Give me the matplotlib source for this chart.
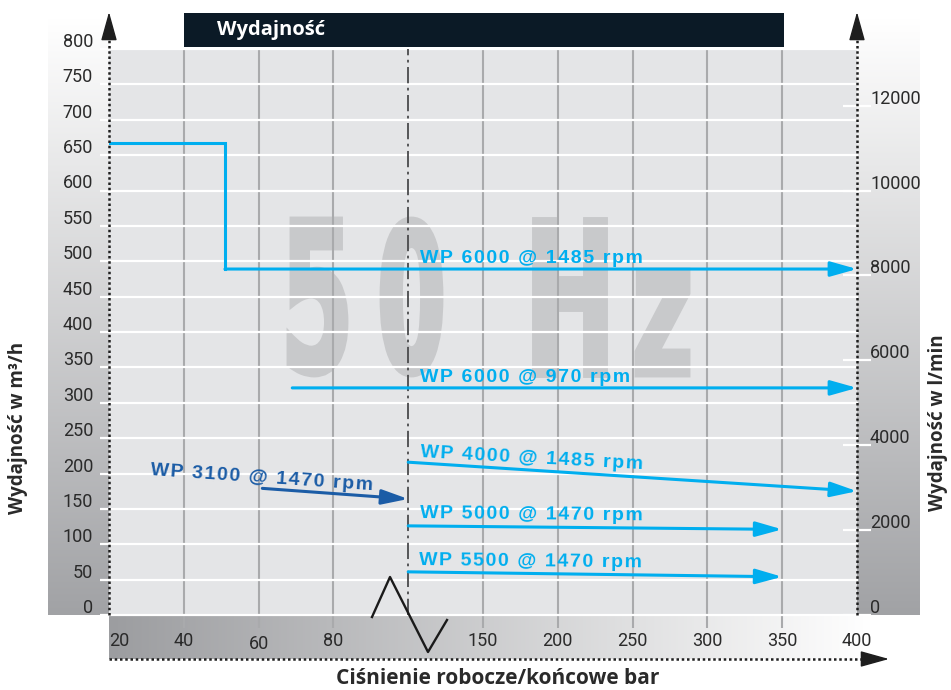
import numpy as np
import matplotlib
matplotlib.use('Agg')
import matplotlib.pyplot as plt
from matplotlib import transforms
from matplotlib.colors import LinearSegmentedColormap
from matplotlib.textpath import TextPath
from matplotlib.patches import PathPatch, Rectangle
from matplotlib.font_manager import FontProperties

# values: pressure in bar, flow in m3/h
p_ticks = [20, 40, 60, 80, 150, 200, 250, 300, 350, 400]
p_grid = [40, 60, 80, 150, 200, 250, 300, 350]
q_ticks = list(range(0, 801, 50))
lpm_ticks = list(range(0, 12001, 2000))

wp6000_1485_p = [20, 51, 51, 400]
wp6000_1485_q = [667, 667, 489, 489]
wp6000_970_p = [69, 400]
wp6000_970_q = [321, 321]
wp4000_1485_p = [100, 400]
wp4000_1485_q = [216, 175]
wp5000_1470_p = [100, 350]
wp5000_1470_q = [126, 121]
wp5500_1470_p = [100, 350]
wp5500_1470_q = [61, 54]
wp3100_1470_p = [61, 100]
wp3100_1470_q = [179, 164]

curve_names = ['WP 6000 @ 1485 rpm', 'WP 6000 @ 970 rpm', 'WP 4000 @ 1485 rpm',
               'WP 5000 @ 1470 rpm', 'WP 5500 @ 1470 rpm', 'WP 3100 @ 1470 rpm']
label_p = [108, 108, 108, 108, 107, 31]
label_q = [497, 329, 223, 137, 71, 198]
label_rot = [0, 0, -3.1, -0.6, -0.6, -3.9]

CYAN = '#00aeef'
NAVY = '#1b5ca6'
TXT = '#2a2a2a'
NUMFONT = ['Roboto', 'DejaVu Sans']


# broken pressure axis: 20..100 and 100..400 share the same tick spacing
def fwd(v):
    v = np.asarray(v, dtype=float)
    return np.where(v <= 100, (v - 20) / 20.0, 4 + (v - 100) / 50.0)


def inv(p):
    p = np.asarray(p, dtype=float)
    return np.where(p <= 4, 20 + p * 20.0, 100 + (p - 4) * 50.0)


W, H = 951, 690
fig = plt.figure(figsize=(W / 100, H / 100), dpi=100)

# background layer in pixel coordinates
bg = fig.add_axes([0, 0, 1, 1])
bg.axis('off')
grad = np.linspace(0, 1, 256).reshape(-1, 1)
side_cm = LinearSegmentedColormap.from_list('side', ['#ffffff', '#a1a2a5'])
band_cm = LinearSegmentedColormap.from_list('band', ['#9c9da0', '#ffffff'])
bg.imshow(grad, cmap=side_cm, extent=(48, 109, 615, 18), aspect='auto', origin='upper')
bg.imshow(grad, cmap=side_cm, extent=(857, 920, 615, 18), aspect='auto', origin='upper')
bg.imshow(grad.T, cmap=band_cm, extent=(109, 872, 659, 615), aspect='auto', origin='upper')
bg.add_patch(Rectangle((109, 49), 748, 566, fc='#e4e5e7', ec='none'))

# "50 Hz" watermark, each glyph stretched into its box
wm_font = FontProperties(family='DejaVu Sans', weight='bold')
for ch, x0, x1, y0, y1 in [('5', 289, 346, 219, 375), ('0', 382, 441, 219, 375),
                           ('H', 534, 605, 219, 375), ('z', 637, 688, 270, 375)]:
    tp = TextPath((0, 0), ch, size=100, prop=wm_font)
    ext = tp.get_extents()
    tr = (transforms.Affine2D().translate(-ext.x0, -ext.y0)
          .scale((x1 - x0) / ext.width, -(y1 - y0) / ext.height).translate(x0, y1))
    bg.add_patch(PathPatch(tr.transform_path(tp), fc='#c8c9cb', ec='#c8c9cb', lw=3.5))
bg.set_xlim(0, W)
bg.set_ylim(H, 0)

# main chart
ax = fig.add_axes([109 / W, (H - 615) / H, 748 / W, 566 / H])
ax.patch.set_visible(False)
ax.set_xscale('function', functions=(fwd, inv))
ax.set_xlim(20, 400)
ax.set_ylim(0, 800)
for s in ax.spines.values():
    s.set_visible(False)
ax.set_xticks(p_grid)
ax.set_yticks(q_ticks)
ax.tick_params(axis='x', direction='out', length=9.5, width=1.5, color='#a9aaac', labelbottom=False)
ax.tick_params(axis='y', direction='out', length=6.5, width=1.6, color='white', labelleft=False)
ax.xaxis.set_minor_locator(matplotlib.ticker.NullLocator())
ax.grid(axis='x', color='#a9aaac', lw=1.5)
ax.grid(axis='y', color='white', lw=1.6)
for gl in ax.get_ygridlines():
    gl.set_clip_on(False)
ax.set_axisbelow(True)
ax.axvline(100, color='#4a4a4c', lw=1.3, ls=(0, (9, 2.5, 1.5, 2.5)), zorder=1.5)

left_tf = transforms.offset_copy(ax.get_yaxis_transform(), fig=fig, x=-16, y=7, units='dots')
for q in q_ticks:
    ax.text(0, q, str(q), transform=left_tf, ha='right', va='center', fontsize=13,
            family=NUMFONT, color=TXT, clip_on=False)

for p in p_ticks:
    dy = -29 if p == 60 else -26
    tf = transforms.offset_copy(ax.get_xaxis_transform(), fig=fig, x=0, y=dy, units='dots')
    ax.text(p, 0, str(p), transform=tf, ha='left' if p == 20 else 'center', va='center',
            fontsize=13, family=NUMFONT, color=TXT, clip_on=False)

# right axis in l/min
ax2 = ax.twinx()
ax2.set_ylim(0, 800 * 1000 / 60)
for s in ax2.spines.values():
    s.set_visible(False)
ax2.set_yticks(lpm_ticks)
ax2.tick_params(axis='y', direction='inout', length=19.5, width=1.6, color='white', labelright=False)
right_tf = transforms.offset_copy(ax2.get_yaxis_transform(), fig=fig, x=13, y=7, units='dots')
for v in lpm_ticks:
    ax2.text(1, v, str(v), transform=right_tf, ha='left', va='center', fontsize=13,
             family=NUMFONT, color=TXT, clip_on=False)


def draw_curve(px, qy, color):
    if len(px) > 2:
        ax.plot(px[:-1], qy[:-1], color=color, lw=2.2, solid_joinstyle='miter', zorder=3)
    ax.annotate('', xy=(px[-1], qy[-1]), xytext=(px[-2], qy[-2]), annotation_clip=False,
                arrowprops=dict(arrowstyle='-|>,head_length=1.6,head_width=0.45',
                                color=color, lw=2.2, shrinkA=0, shrinkB=0), zorder=3)


draw_curve(wp6000_1485_p, wp6000_1485_q, CYAN)
draw_curve(wp6000_970_p, wp6000_970_q, CYAN)
draw_curve(wp4000_1485_p, wp4000_1485_q, CYAN)
draw_curve(wp5000_1470_p, wp5000_1470_q, CYAN)
draw_curve(wp5500_1470_p, wp5500_1470_q, CYAN)
draw_curve(wp3100_1470_p, wp3100_1470_q, NAVY)

# letter-spaced curve labels (hair spaces between the characters)
for i, name in enumerate(curve_names):
    ax.text(label_p[i], label_q[i], '\u200a'.join(name), rotation=label_rot[i],
            rotation_mode='anchor', ha='left', va='baseline', fontsize=14, fontweight='bold',
            family=['Liberation Sans', 'DejaVu Sans'],
            color=NAVY if '3100' in name else CYAN, zorder=4)

# overlay: title bar, dotted axis arrows, break mark, axis titles
ov = fig.add_axes([0, 0, 1, 1], zorder=10)
ov.axis('off')
ov.patch.set_visible(False)
ov.add_patch(Rectangle((184, 13), 600, 34, fc='#0b1a26', ec='none'))
ov.text(217, 30, 'Wydajność', color='white', fontsize=14.5, fontweight='bold',
        family=['Open Sans', 'DejaVu Sans'], va='center', ha='left')

dot = dict(color='#1e1e1e', lw=1.8, ls=(0, (1, 1.1)))
head = dict(arrowstyle='-|>,head_length=1.8,head_width=0.5', color='#1e1e1e', lw=1,
            shrinkA=0, shrinkB=0)
for xa in (109, 857):
    ov.plot([xa, xa], [615, 34], **dot)
    ov.annotate('', xy=(xa, 12), xytext=(xa, 36), arrowprops=head)
ov.plot([109, 868], [659, 659], **dot)
ov.annotate('', xy=(889, 659), xytext=(865, 659), arrowprops=head)

ov.plot([372, 390, 428, 447], [617, 577, 652, 620], color='#1a1a1a', lw=1.7)

ttl = dict(fontweight='bold', color=TXT, family=['Open Sans', 'DejaVu Sans'])
ov.text(18, 428, 'Wydajność w m³/h', rotation=90, ha='center', va='center', fontsize=13.5, **ttl)
ov.text(938, 423, 'Wydajność w l/min', rotation=90, ha='center', va='center', fontsize=13.5, **ttl)
ov.text(498, 679, 'Ciśnienie robocze/końcowe bar', ha='center', va='center', fontsize=15, **ttl)
ov.set_xlim(0, W)
ov.set_ylim(H, 0)

fig.savefig('out.png', dpi=100)
